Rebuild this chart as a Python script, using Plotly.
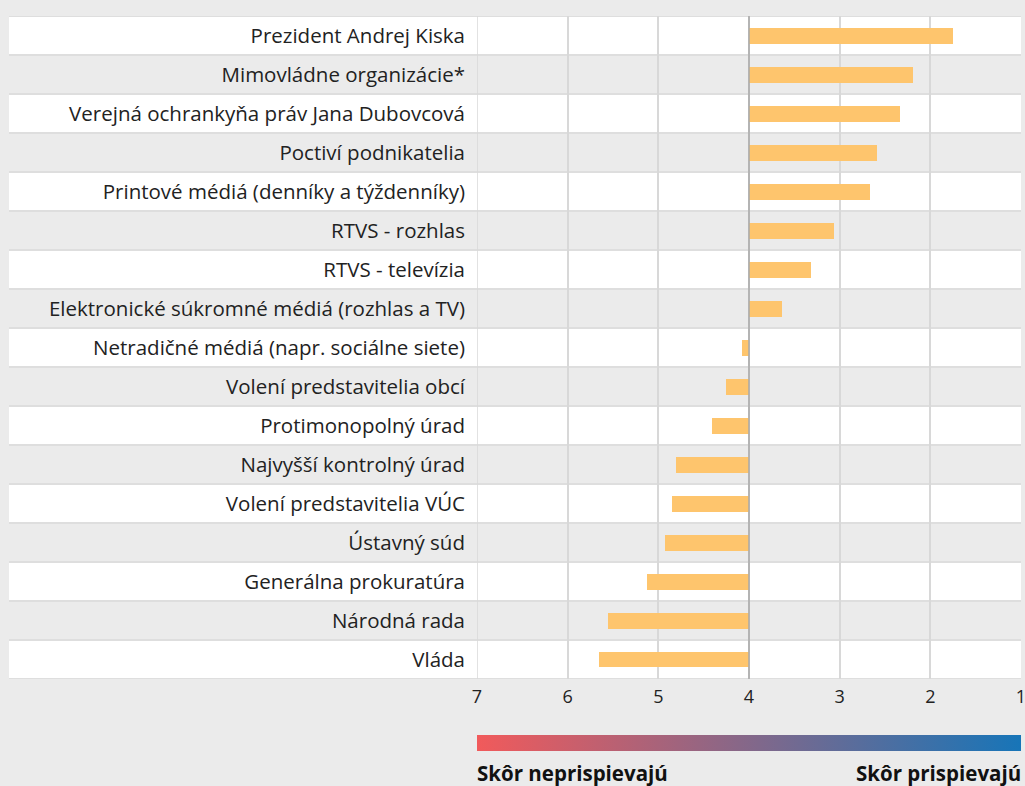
"""
Príspevok inštitúcií k boju proti korupcii — priemerné skóre (1 až 7).
"""

import plotly.graph_objects as go


# ─── Data ─────────────────────────────────────────────────────────────────────

institutions = [
    "Prezident Andrej Kiska",
    "Mimovládne organizácie*",
    "Verejná ochrankyňa práv Jana Dubovcová",
    "Poctiví podnikatelia",
    "Printové médiá (denníky a týždenníky)",
    "RTVS - rozhlas",
    "RTVS - televízia",
    "Elektronické súkromné médiá (rozhlas a TV)",
    "Netradičné médiá (napr. sociálne siete)",
    "Volení predstavitelia obcí",
    "Protimonopolný úrad",
    "Najvyšší kontrolný úrad",
    "Volení predstavitelia VÚC",
    "Ústavný súd",
    "Generálna prokuratúra",
    "Národná rada",
    "Vláda",
]

scores = [1.75, 2.19, 2.34, 2.59, 2.67, 3.06, 3.32, 3.64, 4.08,
          4.25, 4.41, 4.81, 4.85, 4.93, 5.12, 5.56, 5.65]

neutral = 4
scale_ticks = [7, 6, 5, 4, 3, 2, 1]
scale_left_label = "Skôr neprispievajú"
scale_right_label = "Skôr prispievajú"


# ─── Style ────────────────────────────────────────────────────────────────────

FONT = "Open Sans"
BAR_COLOR = "#fec56d"
PAGE_BG = "#ebebeb"
ROW_WHITE = "#ffffff"
ROW_LINE = "#dedede"
GRID = "#d8d8d8"
NEUTRAL_LINE = "#a9a9a9"
W, H = 1025, 786
L, R, T, B = 9, 4, 16, 107
PLOT_X0 = 477  # pixel where the 7..1 scale starts
X_DOMAIN_START = (PLOT_X0 - L) / (W - L - R)
LABEL_Y = (H - B - 773) / (H - T - B)  # bottom captions, in paper units
# colorbar x is effectively measured against the plot width (found by trial)
GRADIENT_X = (PLOT_X0 + W - R) / 2 / (W - L - R)


def row_shapes(n: int) -> list[dict]:
    """Alternating white / grey stripes behind every row, incl. label area."""
    shapes = []
    for i in range(n):
        shapes.append(dict(
            type="rect", xref="paper", yref="y", layer="below",
            x0=0, x1=1, y0=i - 0.5, y1=i + 0.5,
            fillcolor=ROW_WHITE if i % 2 == 0 else PAGE_BG,
            line_width=0,
        ))
    for i in range(n + 1):
        shapes.append(dict(
            type="line", xref="paper", yref="y", layer="below",
            x0=0, x1=1, y0=i - 0.5, y1=i - 0.5,
            line=dict(color=ROW_LINE, width=2),
        ))
    return shapes


# ─── Chart ────────────────────────────────────────────────────────────────────

fig = go.Figure()

fig.add_trace(go.Bar(
    y=institutions,
    x=[s - neutral for s in scores],
    base=neutral,
    orientation="h",
    width=0.41,
    marker=dict(color=BAR_COLOR, line_width=0),
    showlegend=False,
    hoverinfo="skip",
))

# dummy trace that only carries the red → blue gradient (as a colorbar)
fig.add_trace(go.Scatter(
    x=[None], y=[None], mode="markers",
    marker=dict(
        color=[0], cmin=0, cmax=1,
        colorscale=[[0, "#f15a5b"], [1, "#1775b8"]],
        showscale=True,
        colorbar=dict(
            orientation="h",
            xref="container", yref="container",
            x=GRADIENT_X, xanchor="center",
            y=(H - 743) / H, yanchor="middle",
            len=W - R - PLOT_X0, lenmode="pixels",
            thickness=16, outlinewidth=0,
            xpad=0, ypad=0,
            showticklabels=False, ticks="",
        ),
    ),
    showlegend=False,
    hoverinfo="skip",
))

for shp in row_shapes(len(institutions)):
    fig.add_shape(**shp)

# left edge grid line (plotly skips the one sitting on the range boundary)
fig.add_vline(x=scale_ticks[0], line=dict(color=GRID, width=1.5), layer="below")
fig.add_vline(x=neutral, line=dict(color=NEUTRAL_LINE, width=1.5), layer="above")

fig.add_annotation(
    text=f"<b>{scale_left_label}</b>", xref="paper", yref="paper",
    x=X_DOMAIN_START, y=LABEL_Y, xanchor="left", yanchor="middle",
    xshift=-2, showarrow=False,
    font=dict(family=FONT, size=20.5, color="#111111"),
)
fig.add_annotation(
    text=f"<b>{scale_right_label}</b>", xref="paper", yref="paper",
    x=1, y=LABEL_Y, xanchor="right", yanchor="middle",
    xshift=2, showarrow=False,
    font=dict(family=FONT, size=20.5, color="#111111"),
)

fig.update_xaxes(
    domain=[X_DOMAIN_START, 1],
    range=[7, 1],
    tickvals=scale_ticks,
    ticktext=[str(t) for t in scale_ticks],
    showgrid=True, gridcolor=GRID, gridwidth=1.5,
    zeroline=False, showline=False,
    ticks="", ticklabelstandoff=5, ticklabeloverflow="allow",
    tickfont=dict(family=FONT, size=18, color="#222222"),
)
fig.update_yaxes(
    type="category",
    categoryorder="array", categoryarray=institutions,
    range=[len(institutions) - 0.5, -0.5],
    showgrid=False, zeroline=False, showline=False,
    ticks="", ticklabelstandoff=11,
    tickfont=dict(family=FONT, size=20.5, color="#222222"),
)

fig.update_layout(
    width=W, height=H,
    margin=dict(l=L, r=R, t=T, b=B, pad=0, autoexpand=False),
    paper_bgcolor=PAGE_BG,
    plot_bgcolor="rgba(0,0,0,0)",
    font=dict(family=FONT),
    bargap=0,
)

# page without the default body margin so the figure sits at 0,0
fig.write_html(
    "out.html",
    config={"displayModeBar": False},
    post_script="document.body.style.margin='0';"
                "document.body.style.background='#ebebeb';"
                "document.body.style.overflow='hidden';",
)
